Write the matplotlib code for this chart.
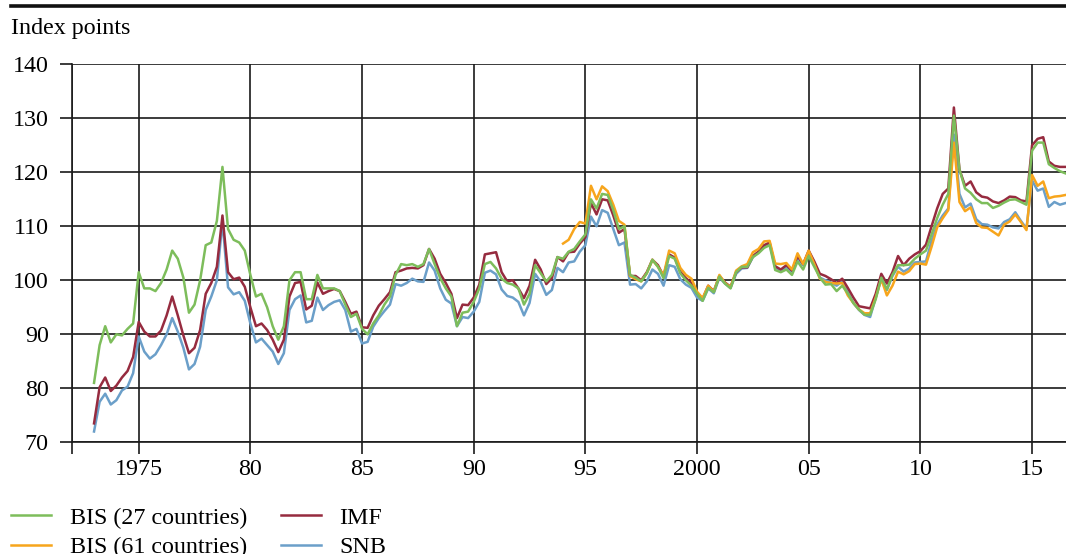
import matplotlib
matplotlib.use("Agg")
import matplotlib.pyplot as plt
from matplotlib.lines import Line2D
import numpy as np
import pandas as pd

plt.rcParams['font.family'] = ['Liberation Serif', 'DejaVu Serif']
plt.rcParams['font.size'] = 17.3

# quarterly readings, Jan/Apr/Jul/Oct, index points
bis27 = [81, 88, 91.5, 88.5, 90, 89.8, 91, 92,
         101.5, 98.5, 98.5, 98, 99.5, 102, 105.5, 104,
         100.5, 94, 95.5, 100, 106.5, 107, 111, 121,
         109.5, 107.5, 107, 105.5, 101, 97, 97.5, 95,
         91.5, 89, 91.5, 100, 101.5, 101.5, 96.5, 96.5,
         101, 98.5, 98.5, 98.5, 98, 95.5, 93.2, 93.8,
         91, 90, 92, 93.5, 95.5, 97, 101, 103,
         102.8, 103, 102.5, 103, 105.8, 103, 100.4, 98.5,
         97, 91.5, 94, 94.2, 96, 98.5, 103, 103.4,
         102.2, 100.3, 99.5, 99.2, 98.5, 95.5, 97.5, 102.8,
         101.3, 99.8, 101, 104.3, 104, 105.3, 105.8, 107.2,
         108.5, 115, 113.3, 116, 115.8, 113, 109.5, 110,
         101, 100.5, 99.8, 101.3, 103.8, 102.5, 100.4, 104.5,
         104, 101.3, 100, 99, 97.5, 96.2, 98.6, 97.8,
         100.7, 99.4, 98.5, 101.5, 102.5, 102.5, 104.3, 105,
         106, 106.5, 101.9, 101.5, 102, 101, 103.5, 102,
         104.5, 102.5, 100.5, 99.2, 99.3, 98, 99, 97.6,
         95.8, 94.6, 93.6, 93.6, 96.5, 100.5, 98.3, 101,
         102.8, 102.8, 102.9, 104, 104.8, 105.5, 108.5, 111.5,
         114, 116, 130.5, 120.5, 117, 116.2, 115, 114.3,
         114.3, 113.4, 113.8, 114.4, 114.9, 115, 114.5, 114,
         124, 125.5, 125.5, 121.5, 120.8, 120.2, 119.8]

imf = [73.5, 80.2, 82, 79.5, 80.5, 82, 83.2, 85.8,
       92.3, 90.5, 89.6, 89.6, 90.7, 93.5, 97, 93.5,
       89.8, 86.5, 87.5, 90.8, 97.5, 99.5, 102.5, 112,
       101.5, 100.2, 100.5, 98.8, 95, 91.5, 92, 90.8,
       89, 86.7, 89, 97, 99.5, 99.7, 94.6, 95.3,
       99.6, 97.5, 98, 98.4, 98, 96, 93.8, 94.2,
       91.3, 91.2, 93.5, 95.3, 96.5, 97.8, 101.5, 101.8,
       102.2, 102.3, 102.2, 102.8, 105.8, 104, 101.2, 99.5,
       97.5, 93, 95.5, 95.4, 96.8, 99.2, 104.8, 105,
       105.2, 101.5, 99.8, 100, 98.5, 96.7, 99, 103.8,
       102, 99.3, 100.4, 104.3, 103.5, 105.2, 105.3, 106.8,
       108, 114.3, 112.2, 115, 114.8, 112, 108.8, 109.5,
       100.8, 100.8, 100, 101.5, 103.8, 102.8, 100.8, 104.8,
       104.2, 101.6, 100.4, 99.5, 97.6, 96.6, 99, 98,
       100.8, 99.6, 98.8, 101.5, 102.4, 102.4, 104.5, 105.3,
       106.5, 107, 102.6, 102, 102.8, 101.8, 104.5, 103,
       105.5, 103.5, 101.2, 100.8, 100.2, 99.5, 100.3, 98.6,
       96.8, 95.2, 95, 94.8, 97.5, 101.2, 99.4, 101.5,
       104.5, 102.8, 104, 104.8, 105.4, 106.6, 110, 113.3,
       116, 117, 132, 120.5, 117.5, 118.3, 116.3, 115.5,
       115.3, 114.6, 114.3, 114.8, 115.5, 115.4, 114.8, 114.6,
       125, 126.2, 126.5, 122, 121.2, 121, 121]

snb = [72, 77.5, 79, 77, 77.8, 79.6, 80.3, 82.8,
       89.6, 86.8, 85.5, 86.3, 88, 90, 93, 90.5,
       87.5, 83.5, 84.5, 87.7, 94.5, 97, 100, 111,
       98.7, 97.4, 97.8, 96.2, 92, 88.5, 89.2, 88,
       86.8, 84.5, 86.5, 94.5, 96.5, 97.2, 92.2, 92.5,
       96.8, 94.5, 95.4, 96, 96.3, 94.5, 90.5, 91,
       88.3, 88.6, 91.4, 93, 94.3, 95.5, 99.3, 99,
       99.5, 100.3, 99.8, 99.7, 103.3, 101.8, 98.5, 96.4,
       95.7, 91.5, 93.2, 93, 94.2, 96, 101.4, 101.8,
       101.1, 98.3, 97.1, 96.8, 96, 93.5, 95.8, 101.2,
       99.7, 97.3, 98.2, 102.3, 101.5, 103.3, 103.5, 105.3,
       106.5, 111.8, 110, 113, 112.5, 109.5, 106.5, 107,
       99.2, 99.3, 98.5, 99.8, 102, 101.2, 99, 102.8,
       102.5, 100.2, 99.2, 98.6, 96.8, 96.2, 98.5, 97.6,
       100.5, 99.4, 98.6, 101.2, 102.2, 102.3, 104.3, 105.2,
       106.3, 106.8, 102.4, 101.8, 102.5, 101.6, 104.2, 102.8,
       105.3, 103.2, 100.5, 100, 99.6, 99, 99.8, 97.8,
       95.8, 94.5, 93.6, 93.2, 96.8, 100.4, 98.2, 100.8,
       102.5, 101.6, 102.2, 103.3, 103.4, 103.5, 107.3, 110.3,
       112, 113.3, 127, 116, 113.5, 114.2, 111.3, 110.4,
       110.3, 109.8, 109.6, 110.8, 111.3, 112.6, 111, 109.6,
       118.5, 116.6, 117, 113.6, 114.5, 114, 114.3]

# BIS broad index only from 1994
bis61 = [106.8, 107.5, 109.5, 110.8, 110.5, 117.5, 115, 117.4,
         116.5, 114, 111, 110.3, 100.8, 100.2, 99.8, 101.3,
         103.8, 102.5, 100.9, 105.5, 105, 102.3, 101, 100.3,
         97.9, 96.7, 99, 97.9, 101, 99.5, 98.7, 101.8,
         102.6, 103, 105.2, 105.8, 107.2, 107.3, 103.1, 103,
         103.2, 102, 105, 103, 105.5, 103, 100.3, 99.7,
         99.5, 99.4, 99.5, 97.2, 95.8, 94.6, 93.9, 93.9,
         96.8, 100.2, 97.2, 99, 101.6, 101.1, 101.7, 103,
         103.1, 102.9, 106.2, 109.8, 111.5, 113, 125.5, 114.5,
         112.8, 113.5, 110.6, 109.8, 109.7, 109, 108.3, 110.3,
         110.9, 112.2, 110.8, 109.3, 119.5, 117.5, 118.3, 115.2,
         115.5, 115.6, 115.8]

tick_years = [1972, 1975, 1980, 1985, 1990, 1995, 2000, 2005, 2010, 2015]
tick_labels = ['', '1975', '80', '85', '90', '95', '2000', '05', '10', '15']


def to_years(start, n):
    d = pd.date_range(start, periods=n, freq='QS')
    return d.year + (d.month - 1) / 12.0


t_main = to_years('1973-01-01', len(bis27))
t_61 = to_years('1994-01-01', len(bis61))

c_green = '#7dbd5b'
c_orange = '#f7a51c'
c_red = '#962b3f'
c_blue = '#6b9fc9'

fig = plt.figure(figsize=(10.66, 5.54), dpi=100)
ax = fig.add_axes([71.7 / 1066, 1 - 442.3 / 554, 1 - 71.7 / 1066, (442.3 - 64.3) / 554])

lw = 1.8
l_snb, = ax.plot(t_main, snb, color=c_blue, lw=lw, label='SNB', zorder=3)
l_imf, = ax.plot(t_main, imf, color=c_red, lw=lw, label='IMF', zorder=4)
l_61, = ax.plot(t_61, bis61, color=c_orange, lw=lw, label='BIS (61 countries)', zorder=5)
l_27, = ax.plot(t_main, bis27, color=c_green, lw=lw, label='BIS (27 countries)', zorder=6)

ax.set_xlim(1972, 2016.52)
ax.set_ylim(70, 140)
ax.set_yticks(np.arange(70, 141, 10))
ax.set_xticks(tick_years)
ax.set_xticklabels(tick_labels)
ax.grid(True, color='#1a1a1a', lw=1.2, zorder=1)
ax.set_axisbelow(True)
for s in ['top', 'right']:
    ax.spines[s].set_visible(False)
for s in ['left', 'bottom']:
    ax.spines[s].set_color('#1a1a1a')
    ax.spines[s].set_linewidth(1.2)
ax.tick_params(axis='both', direction='out', length=8.5, width=1.2,
               color='#1a1a1a', labelsize=17.3)
ax.tick_params(axis='y', pad=8)
ax.tick_params(axis='x', pad=3.5)

# header rule and unit
fig.add_artist(Line2D([11 / 1066, 1.0], [1 - 5.5 / 554, 1 - 5.5 / 554],
                      color='#111111', lw=2.6, transform=fig.transFigure))
fig.text(11 / 1066, 1 - 34 / 554, 'Index points', fontsize=17.3, va='baseline', ha='left')

fig.legend(handles=[l_27, l_61, l_imf, l_snb], ncol=2, frameon=False,
           loc='upper left', bbox_to_anchor=(11 / 1066, 1 - 507 / 554),
           borderaxespad=0, borderpad=0, handlelength=1.66, handletextpad=0.78,
           columnspacing=1.42, labelspacing=0.32, fontsize=17.3)

fig.savefig('out.png', dpi=100)
